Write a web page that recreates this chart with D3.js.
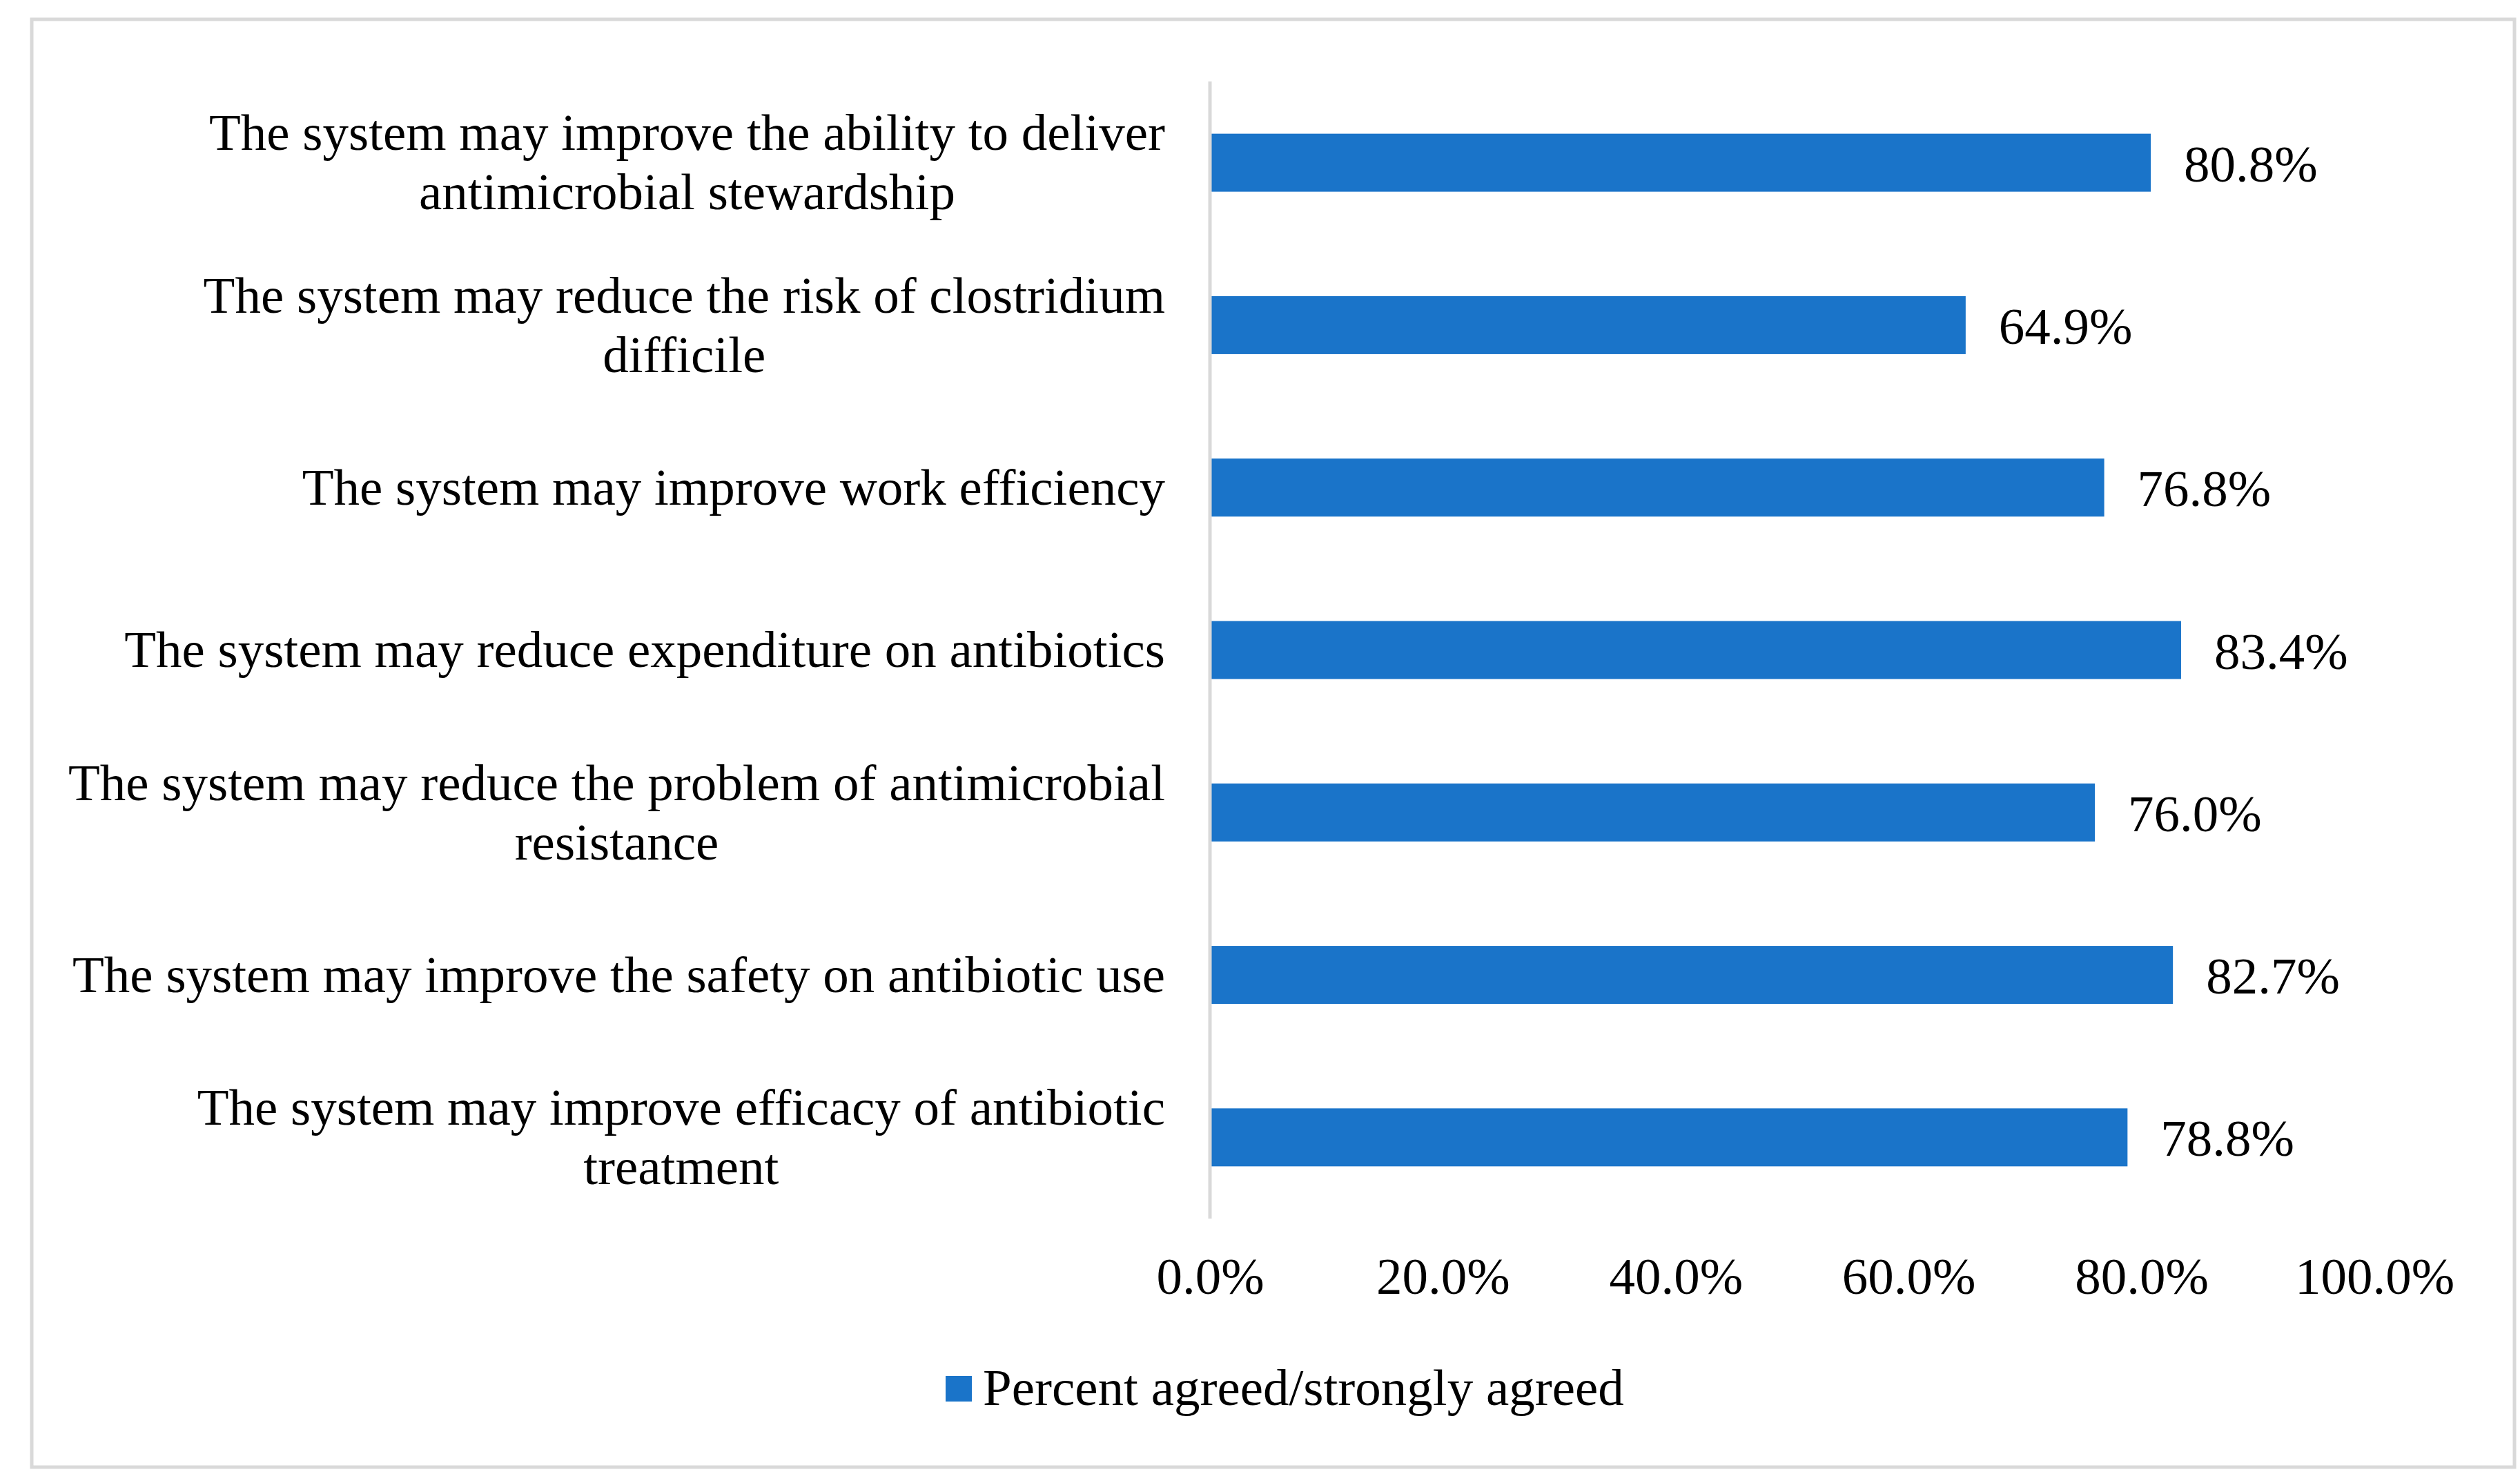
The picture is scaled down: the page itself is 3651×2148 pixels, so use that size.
<!DOCTYPE html>
<html>
<head>
<meta charset="utf-8">
<script src="https://cdn.jsdelivr.net/npm/d3@7"></script>
<style>
  body { margin: 0; background: #fff; }
  text { font-family: "Liberation Serif", "Times New Roman", serif; fill: #000; }
</style>
</head>
<body>
<div id="chart"></div>
<script>
// categories, top to bottom (\n marks where the label wraps)
const categories = [
  'The system may improve the ability to deliver\nantimicrobial stewardship',
  'The system may reduce the risk of clostridium\ndifficile',
  'The system may improve work efficiency',
  'The system may reduce expenditure on antibiotics',
  'The system may reduce the problem of antimicrobial\nresistance',
  'The system may improve the safety on antibiotic use',
  'The system may improve efficacy of antibiotic\ntreatment'
];
const values = [80.8, 64.9, 76.8, 83.4, 76.0, 82.7, 78.8];
const xTicks = [0, 20, 40, 60, 80, 100];
const seriesName = 'Percent agreed/strongly agreed';

const W = 3651, H = 2148;
const margin = { top: 118, left: 1753, right: 211, bottom: 383 };
const fontSize = 75;
const barColor = '#1a74c9';
const gridGrey = '#d9d9d9';

const svg = d3.select('#chart').append('svg')
  .attr('width', W)
  .attr('height', H);

// outer frame
svg.append('rect')
  .attr('x', 46).attr('y', 28)
  .attr('width', 3597).attr('height', 2097)
  .attr('fill', '#fff')
  .attr('stroke', gridGrey)
  .attr('stroke-width', 5);

const width = W - margin.left - margin.right;
const height = H - margin.top - margin.bottom;

const x = d3.scaleLinear().domain([0, 100]).range([0, width]);
const y = d3.scaleBand().domain(categories).range([0, height]).paddingInner(0.643).paddingOuter(0.3215);

const chart = svg.append('g')
  .attr('transform', 'translate(' + margin.left + ',' + margin.top + ')');

// bars
chart.selectAll('.bar')
  .data(values)
  .enter().append('rect')
  .attr('class', 'bar')
  .attr('x', 0)
  .attr('y', (d, i) => y(categories[i]))
  .attr('width', d => x(d))
  .attr('height', y.bandwidth())
  .attr('fill', barColor);

// value labels
chart.selectAll('.val')
  .data(values)
  .enter().append('text')
  .attr('class', 'val')
  .attr('x', d => x(d) + 48)
  .attr('y', (d, i) => y(categories[i]) + y.bandwidth() / 2)
  .attr('dy', '0.36em')
  .style('font-size', fontSize + 'px')
  .text(d => d.toFixed(1) + '%');

// vertical axis line
chart.append('line')
  .attr('x1', 0).attr('x2', 0)
  .attr('y1', 0).attr('y2', height)
  .attr('stroke', gridGrey)
  .attr('stroke-width', 5);

// category labels: block right-aligned, lines centred within block
const labelRight = -65;
const lineH = 86;
categories.forEach(cat => {
  const lines = cat.split('\n');
  const cy = y(cat) + y.bandwidth() / 2;
  const g = chart.append('g').attr('class', 'cat');
  const texts = lines.map((ln, j) => g.append('text')
    .attr('text-anchor', 'middle')
    .attr('y', cy + (j - (lines.length - 1) / 2) * lineH)
    .attr('dy', '0.33em')
    .style('font-size', fontSize + 'px')
    .text(ln));
  const maxW = d3.max(texts, t => t.node().getComputedTextLength());
  texts.forEach(t => t.attr('x', labelRight - maxW / 2));
});

// x axis tick labels
const xAxis = d3.axisBottom(x)
  .tickValues(xTicks)
  .tickSize(0)
  .tickPadding(0)
  .tickFormat(d => d.toFixed(1) + '%');

const gx = chart.append('g')
  .attr('transform', 'translate(0,' + (height + 109) + ')')
  .call(xAxis);
gx.select('.domain').remove();
gx.selectAll('text')
  .attr('dy', 0)
  .attr('y', 0)
  .style('font-size', fontSize + 'px')
  .style('font-family', '"Liberation Serif", "Times New Roman", serif')
  .attr('fill', '#000');

// legend
const legend = svg.append('g').attr('transform', 'translate(1370,1993)');
legend.append('rect')
  .attr('width', 38).attr('height', 37)
  .attr('fill', barColor);
legend.append('text')
  .attr('x', 54).attr('y', 42)
  .style('font-size', fontSize + 'px')
  .text(seriesName);
</script>
</body>
</html>
